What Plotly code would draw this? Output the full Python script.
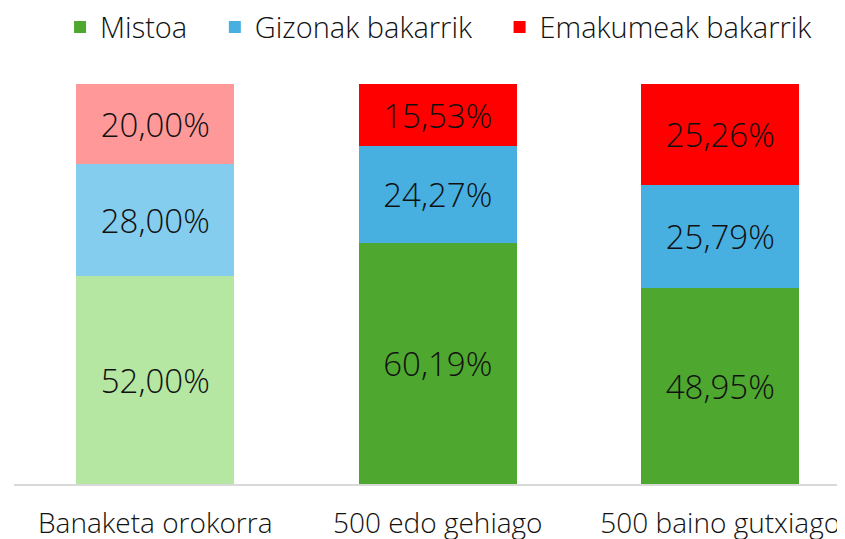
import plotly.graph_objects as go

categories = ["Banaketa orokorra", "500 edo gehiago", "500 baino gutxiago"]
series = ["Mistoa", "Gizonak bakarrik", "Emakumeak bakarrik"]
mistoa = [52.00, 60.19, 48.95]
gizonak = [28.00, 24.27, 25.79]
emakumeak = [20.00, 15.53, 25.26]

colors = ["#4EA72E", "#47B0E1", "#FF0000"]
faded = ["#B5E6A2", "#85CDEE", "#FF9999"]

FONT = "Open Sans"
TXT = "#111111"

def fmt(v):
    return f"{v:.2f}".replace(".", ",") + "%"

fig = go.Figure()
values = [mistoa, gizonak, emakumeak]
for i, name in enumerate(series):
    fig.add_trace(go.Bar(
        x=[categories[0]], y=[values[i][0]], name=name, showlegend=False,
        marker=dict(color=faded[i], line=dict(width=0)),
        text=[fmt(values[i][0])], textposition="inside", insidetextanchor="middle",
        textfont=dict(size=33, color=TXT, family=FONT, weight=300), width=0.56,
        legendgroup=name, textangle=0,
    ))
for i, name in enumerate(series):
    fig.add_trace(go.Bar(
        x=categories[1:], y=values[i][1:], name=name + ("\u00a0" * 3 if i < 2 else ""),
        marker=dict(color=colors[i], line=dict(width=0)),
        text=[fmt(v) for v in values[i][1:]], textposition="inside", insidetextanchor="middle",
        textfont=dict(size=33, color=TXT, family=FONT, weight=300), width=0.56,
        legendgroup=name, textangle=0,
    ))

fig.update_layout(
    width=837, height=531,
    barmode="stack",
    plot_bgcolor="white", paper_bgcolor="white",
    margin=dict(l=6, r=0, t=76, b=55),
    font=dict(family=FONT, size=28, color=TXT, weight=300),
    legend=dict(orientation="h", xref="container", x=0.515, xanchor="center",
                yref="container", y=0.964, yanchor="middle",
                font=dict(size=29, family=FONT, color=TXT, weight=300),
                traceorder="normal", itemclick=False),
    xaxis=dict(range=[-0.5, 2.4416], showline=True, linecolor="#D9D9D9", linewidth=2,
               showgrid=False, ticks="", tickfont=dict(size=28, color=TXT, family=FONT, weight=300),
               ticklabelstandoff=13, automargin=False),
    yaxis=dict(range=[0, 100], visible=False, automargin=False),
)

fig.write_html("out.html")
